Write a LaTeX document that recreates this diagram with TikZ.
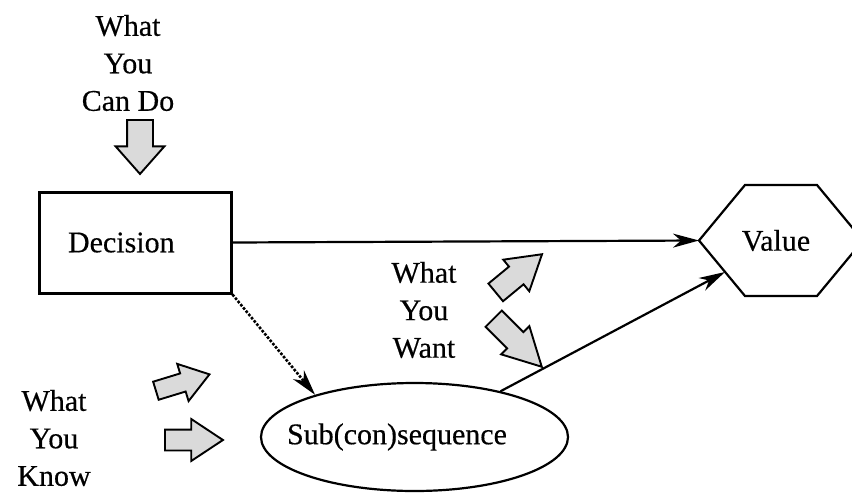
\documentclass[tikz,border=0pt]{standalone}
\usepackage{fontspec}
\setmainfont[FakeBold=0.4]{Liberation Serif}
\usetikzlibrary{shapes.geometric, shapes.arrows, arrows.meta}
\definecolor{pale}{RGB}{218, 218, 218}

\tikzset{
  lbl/.style={align=center, font=\fontsize{30}{37.5}\selectfont},
  fatarrow/.style={single arrow, draw, fill=pale, line width=1.9pt, anchor=tail,
    inner sep=10pt, single arrow head extend=10pt, single arrow tip angle=66,
    minimum height=58pt},
  link/.style={line width=2.2pt, -{Stealth[length=26pt, width=14pt, inset=8pt]}}
}

\begin{document}
\begin{tikzpicture}[x=1pt, y=-1pt]
  \clip (0,0) rectangle (852,493);

  % What you can do
  \node [lbl] (cando) at (128,63) {What\\You\\Can Do};
  \node [fatarrow, rotate=-90, minimum height=54pt, inner sep=12pt,
    single arrow head extend=11.5pt, single arrow tip angle=83] (candoarrow) at (140,119) {};

  % Decision
  \node [lbl, draw, line width=3pt, minimum width=192pt, minimum height=101pt,
    text width=134pt, inner xsep=29pt, align=left] (decision) at (135,242.5) {Decision};

  % Value
  \node [lbl] (value) at (776,240.5) {Value};
  \draw [line width=2.2pt] (699,240.5) coordinate (valw) -- (745,185) -- (817,185)
    -- (863,240.5) -- (817,296) -- (745,296) -- cycle;
  \coordinate (valsw) at (725,272);

  % Sub(con)sequence
  \node [lbl, draw, ellipse, line width=2.2pt, minimum width=307pt, minimum height=108pt,
    inner sep=0pt] (subseq) at (414.5,437) {\makebox[0pt]{\hspace*{-35pt}Sub(con)sequence}};

  % What you want
  \node [lbl] (want) at (424,310) {What\\You\\Want};
  \node [fatarrow, rotate=39.5, minimum height=60pt, inner sep=10.5pt,
    single arrow head extend=9pt, single arrow tip angle=63] (wantup) at (495,293) {};
  \node [fatarrow, rotate=-45, minimum height=68pt, inner sep=10.5pt,
    single arrow head extend=8.5pt, single arrow tip angle=56] (wantdown) at (493,318) {};

  % What you know
  \node [lbl] (know) at (54,438) {What\\You\\Know};
  \node [fatarrow, rotate=17, minimum height=56pt, inner sep=8.5pt,
    single arrow head extend=10pt, single arrow tip angle=70] (knowup) at (155,391) {};
  \node [fatarrow, inner sep=9.5pt, single arrow head extend=10.5pt,
    single arrow tip angle=67] (knowright) at (164,440) {};

  % Links
  \draw [link] (decision.east) -- (valw);
  \draw [link, line width=2.6pt, dash pattern=on 2.6pt off 1.6pt] (decision.south east) -- (subseq.157);
  \draw [link] (subseq.28) -- (valsw);
\end{tikzpicture}
\end{document}
